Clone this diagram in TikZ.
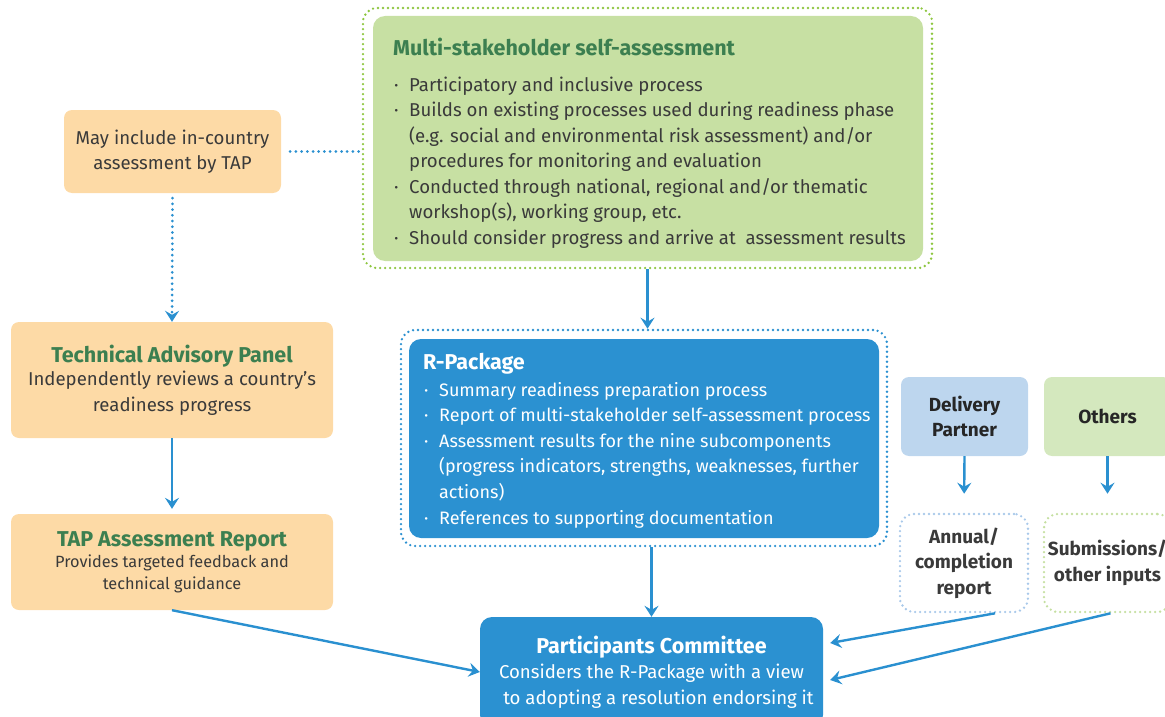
\documentclass[tikz,border=0pt]{standalone}
\usepackage{fontspec}
\setmainfont{Fira Sans}
\usetikzlibrary{arrows.meta,positioning}

\definecolor{linkblue}{HTML}{2A90D0}
\definecolor{boxblue}{HTML}{2B91D1}
\definecolor{boxgreen}{HTML}{C7E0A3}
\definecolor{boxorange}{HTML}{FDDAA6}
\definecolor{titlegreen}{HTML}{3C7F50}
\definecolor{dotgreen}{HTML}{8DC63F}
\definecolor{paleblue}{HTML}{BDD6EE}
\definecolor{palegreen}{HTML}{D4E8BE}
\definecolor{dotpaleblue}{HTML}{A9C9EA}
\definecolor{dotpalegreen}{HTML}{C4DFA0}
\definecolor{textgrey}{HTML}{3A3A3A}

\newcommand{\bul}{\makebox[16pt][l]{\hspace{1pt}\textperiodcentered}}
\newcommand{\ind}{\hspace*{16pt}}
\newcommand{\titfont}{\fontsize{21.5}{25.5}\selectfont\bfseries}

\tikzset{
  plain/.style={inner sep=0pt, rounded corners=8pt, align=center, text=textgrey,
    font=\fontsize{18.6}{25.5}\selectfont},
  orangebox/.style={plain, fill=boxorange},
  bluebox/.style={plain, fill=boxblue, text=white},
  framebox/.style={plain, draw=#1, line width=2.6pt, dash pattern=on 0pt off 5pt,
    line cap=round, rounded corners=14pt},
  smallbox/.style={plain, minimum width=127pt, font=\fontsize{19}{25.5}\selectfont\bfseries,
    text=black!85},
  link/.style={draw=linkblue, line width=2.4pt, -{Stealth[length=11pt,width=14pt,inset=4pt]}},
  dotlink/.style={link, line width=3pt, dash pattern=on 0pt off 5.7pt, line cap=round},
  dotline/.style={draw=linkblue, line width=3pt, dash pattern=on 0pt off 5.7pt, line cap=round},
}

\begin{document}
\begin{tikzpicture}[x=1pt,y=-1pt]
\useasboundingbox (0,0) rectangle (1165,717);
\clip (0,0) rectangle (1165,717);

% self-assessment
\node[framebox=dotgreen, minimum width=569pt, minimum height=260pt] (selfout) at (647.5,138) {};
\node[plain, fill=boxgreen, rounded corners=12pt, minimum width=550pt, minimum height=245pt] (self) at (648,138.5) {};
\node[plain, align=left, anchor=north west] (selftext) at (393,38) {%
{\titfont\color{titlegreen}Multi-stakeholder self-assessment}\\[10pt]
\bul Participatory and inclusive process\\
\bul Builds on existing processes used during readiness phase\\
\ind (e.g. social and environmental risk assessment) and/or\\
\ind procedures for monitoring and evaluation\\
\bul Conducted through national, regional and/or thematic\\
\ind workshop(s), working group, etc.\\
\bul Should consider progress and arrive at \ assessment results};

% left column
\node[orangebox, minimum width=217pt, minimum height=83pt] (may) at (172.5,151.5)
  {May include in-country\\assessment by TAP};
\node[orangebox, minimum width=322pt, minimum height=116pt] (tap) at (172,380)
  {{\titfont\color{titlegreen}Technical Advisory Panel}\\[-2pt]
   Independently reviews a country’s\\readiness progress};
\node[orangebox, minimum width=322pt, minimum height=96pt] (report) at (172,562)
  {{\titfont\color{titlegreen}TAP Assessment Report}\\[-4pt]
   {\fontsize{16.3}{22}\selectfont Provides targeted feedback and}\\[-4pt]
   {\fontsize{16.3}{22}\selectfont technical guidance}};

% R-Package
\node[framebox=linkblue, minimum width=486pt, minimum height=216pt] (rpackout) at (644,438) {};
\node[bluebox, rounded corners=12pt, minimum width=470pt, minimum height=199pt] (rpack) at (644,438.5) {};
\node[plain, text=white, align=left, anchor=north west, font=\fontsize{18}{25.6}\selectfont]
  (rpacktext) at (423,353) {%
{\titfont R-Package}\\[1pt]
\bul Summary readiness preparation process\\
\bul Report of multi-stakeholder self-assessment process\\
\bul Assessment results for the nine subcomponents\\
\ind (progress indicators, strengths, weaknesses, further\\
\ind actions)\\
\bul References to supporting documentation};

% committee
\node[bluebox, rounded corners=12pt, minimum width=343pt, minimum height=110pt] (pc) at (651.5,672)
  {{\titfont Participants Committee}\\
   Considers the R-Package with a view\\
   \hspace*{14pt}to adopting a resolution endorsing it};

% right side
\node[smallbox, fill=paleblue, minimum height=79pt] (delivery) at (964.5,416.5) {Delivery\\Partner};
\node[smallbox, fill=palegreen, minimum height=79pt] (others) at (1107.5,416.5) {Others};
\node[smallbox, framebox=dotpaleblue, minimum width=128pt, minimum height=98pt,
  font=\fontsize{19}{25.5}\selectfont\bfseries] (annual) at (964,563) {Annual/\\completion\\report};
\node[smallbox, framebox=dotpalegreen, minimum height=98pt,
  font=\fontsize{19}{25.5}\selectfont\bfseries] (subm) at (1107.5,563) {Submissions/\\other inputs};

% connectors
\draw[dotline] ([xshift=9pt]may.east) -- (may.east -| selfout.west);
\draw[dotlink] ([yshift=-5pt]may.south) -- (tap.north);
\draw[link, shorten >=5pt] (tap.south) -- (report.north);
\draw[link] (selfout.south) -- (selfout.south |- rpackout.north);
\draw[link] (pc.north |- rpackout.south) -- (pc.north);
\draw[link, shorten >=19pt] (delivery.south) -- (annual.north);
\draw[link, shorten >=19pt] (others.south) -- (others.south |- subm.north);
\draw[link] (report.south) -- (pc.west);
\draw[link] ([xshift=31pt]annual.south) -- ([xshift=7pt,yshift=29pt]pc.east);
\draw[link] ([xshift=3pt]subm.south) -- ([xshift=7pt,yshift=-8pt]pc.east);
\end{tikzpicture}
\end{document}
